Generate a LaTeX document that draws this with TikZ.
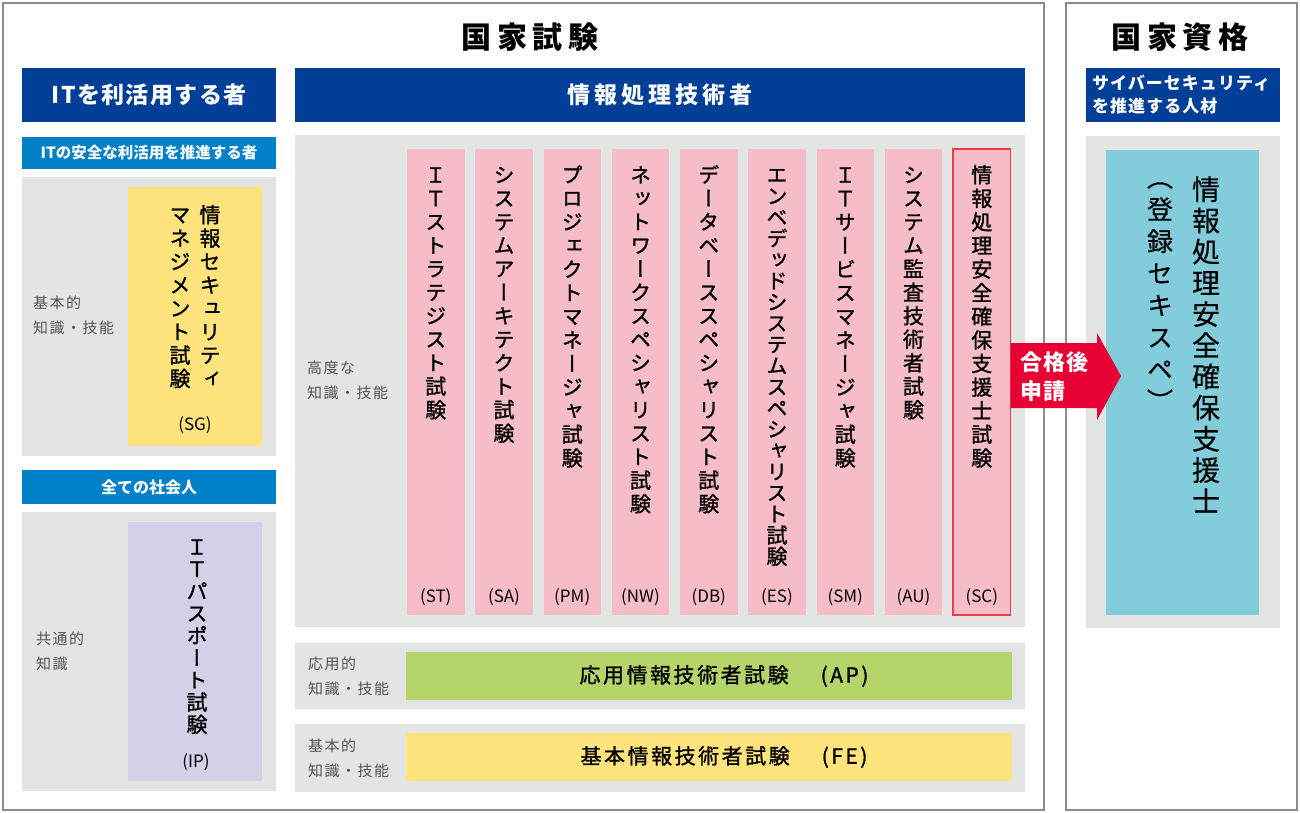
\documentclass[tikz,border=0pt]{standalone}
\usepackage{fontspec}
\setmainfont{Noto Sans CJK JP}
\newfontfamily\jpv[RawFeature=+vert, FakeBold=1.2]{Noto Sans CJK JP}
\newfontfamily\jpvl[RawFeature=+vert, FakeBold=0.4]{Noto Sans CJK JP}
\newfontfamily\jpm[FakeBold=1.2]{Noto Sans CJK JP}
\usetikzlibrary{fit}
\makeatletter
\def\vch@r#1{\ifx\relax#1\else\hbox to 1em{\hss\vrule height .88em depth .12em width 0pt\relax#1\hss}\expandafter\vch@r\fi}
\newcommand\vtext[2]{\vbox{\baselineskip=#1\lineskiplimit=-100pt\lineskip=0pt\expandafter\vch@r#2\relax}}
\makeatother
\definecolor{dblue}{RGB}{0,63,152}
\definecolor{lblue}{RGB}{0,128,200}
\definecolor{pgray}{RGB}{227,228,228}
\definecolor{pinkc}{RGB}{246,189,200}
\definecolor{scred}{RGB}{233,64,69}
\definecolor{arrred}{RGB}{230,0,51}
\definecolor{yel}{RGB}{255,227,124}
\definecolor{lav}{RGB}{213,207,231}
\definecolor{grn}{RGB}{181,213,106}
\definecolor{cyn}{RGB}{131,204,220}
\definecolor{frmgray}{RGB}{140,140,140}
\definecolor{lblgray}{RGB}{85,85,85}
\begin{document}
\begin{tikzpicture}[x=1pt,y=-1pt,
  frm/.style={draw=frmgray, line width=1.5pt, inner sep=0pt, outer sep=0pt},
  area/.style={fill=#1, inner sep=0pt, outer sep=0pt},
  vt/.style={inner sep=0pt, anchor=north, font=\jpv\fontsize{21}{21}\selectfont},
  codetxt/.style={inner sep=0pt, font=\fontsize{17}{20}\selectfont},
  lab/.style={inner sep=0pt, anchor=west, align=left, text=lblgray, font=\fontsize{15}{25}\selectfont\addfontfeature{LetterSpace=10}},
  hdr/.style={text=white, inner sep=0pt, font=\bfseries\fontsize{#1}{#1}\selectfont},
]
\useasboundingbox (0,0) rectangle (1300,812);
\fill[white] (0,0) rectangle (1300,812);

% outer frames
\node[frm, fit={(3,3) (1044,810)}] (exam) {};
\node[frm, fit={(1066,3) (1297,810)}] (qual) {};

% titles
\node[font=\bfseries\fontsize{30}{30}\selectfont\addfontfeature{LetterSpace=18}, inner sep=0pt] (examtitle) at (530,37) {国家試験};
\node[font=\bfseries\fontsize{30}{30}\selectfont\addfontfeature{LetterSpace=18}, inner sep=0pt] (qualtitle) at (1180,37) {国家資格};

% headers
\node[area=dblue, fit={(22,68) (276,122)}] (hIT) {};
\node[hdr=23] (hITt) at (hIT.center) {\addfontfeature{LetterSpace=6}ITを利活用する者};
\node[area=dblue, fit={(295,68) (1025,122)}] (hJ) {};
\node[hdr=23] (hJt) at (hJ.center) {\addfontfeature{LetterSpace=17}情報処理技術者};
\node[area=dblue, fit={(1086,68) (1280,122)}] (hR) {};
\node[hdr=17, anchor=west, align=left, font=\bfseries\fontsize{17}{23}\selectfont] (hRt) at (1092,95) {\addfontfeature{LetterSpace=6}サイバーセキュリティ\\\addfontfeature{LetterSpace=6}を推進する人材};
\node[area=lblue, fit={(22,137) (276,169)}] (hSafe) {};
\node[hdr=15.5] (hSafet) at (hSafe.center) {ITの安全な利活用を推進する者};
\node[area=lblue, fit={(22,470) (276,504)}] (hAll) {};
\node[hdr=16] (hAllt) at (hAll.center) {全ての社会人};

% gray panels
\node[area=pgray, fit={(22,177) (276,456)}] (pSG) {};
\node[area=pgray, fit={(22,512) (276,791)}] (pIP) {};
\node[area=pgray, fit={(295,135) (1025,627)}] (pAdv) {};
\node[area=pgray, fit={(295,643) (1025,709)}] (pAP) {};
\node[area=pgray, fit={(295,724) (1025,792)}] (pFE) {};
\node[area=pgray, fit={(1086,136) (1280,628)}] (pR) {};

% level labels
\node[lab] (lSG) at (33,315) {基本的\\知識・技能};
\node[lab] (lIP) at (36,651) {共通的\\知識};
\node[lab] (lAdv) at (307,380) {高度な\\知識・技能};
\node[lab] (lAP) at (308,676) {応用的\\知識・技能};
\node[lab] (lFE) at (308,758) {基本的\\知識・技能};

% SG
\node[area=yel, fit={(128,187) (262,446)}] (bSG) {};
\node[vt] (tSG1) at (210,204) {\vtext{23.4pt}{情報セキュリティ}};
\node[vt] (tSG2) at (180,204) {\vtext{23.4pt}{マネジメント試験}};
\node[codetxt] (cSG) at (195,425) {(SG)};

% IP
\node[area=lav, fit={(128,522) (262,781)}] (bIP) {};
\node[vt] (tIP) at (197,536) {\vtext{22.2pt}{ＩＴパスポート試験}};
\node[codetxt] (cIP) at (196,762) {(IP)};

% advanced columns
\foreach \i/\cc/\txt/\p in {0/ST/ＩＴストラテジスト試験/23.5, 1/SA/システムアーキテクト試験/23.5, 2/PM/プロジェクトマネージャ試験/23.6, 3/NW/ネットワークスペシャリスト試験/23.5, 4/DB/データベーススペシャリスト試験/23.5, 5/ES/エンベデッドシステムスペシャリスト試験/21.2, 6/SM/ＩＴサービスマネージャ試験/23.6, 7/AU/システム監査技術者試験/23.5, 8/SC/情報処理安全確保支援士試験/23.6}{
  \pgfmathsetmacro\cx{435.75+68.25*\i}
  \node[area=pinkc, fit={(\cx-28.75,149) (\cx+28.75,615)}] (col\cc) {};
  \node[vt] (txt\cc) at (\cx,164) {\vtext{\p pt}{\txt}};
  \node[codetxt] (cd\cc) at (\cx,597) {(\cc)};
}
\draw[scred, line width=1.5pt] (colSC.south west) rectangle (colSC.north east);

% AP / FE
\node[area=grn, fit={(406,652) (1012,700)}] (bAP) {};
\node[inner sep=0pt, font=\jpm\fontsize{21}{21}\selectfont] (bAPt) at ([xshift=15pt]bAP.center) {\addfontfeature{LetterSpace=12}応用情報技術者試験\hspace{32pt}(AP)};
\node[area=yel, fit={(406,733) (1012,781)}] (bFE) {};
\node[inner sep=0pt, font=\jpm\fontsize{21}{21}\selectfont] (bFEt) at ([xshift=15pt]bFE.center) {\addfontfeature{LetterSpace=12}基本情報技術者試験\hspace{32pt}(FE)};

% riss
\node[area=cyn, fit={(1106,150) (1259,615)}] (bR) {};
\node[inner sep=0pt, anchor=north, font=\jpvl\fontsize{28}{28}\selectfont] (tR1) at (1206,175) {\vtext{31.2pt}{情報処理安全確保支援士}};
\node[inner sep=0pt, anchor=north, font=\jpvl\fontsize{26}{26}\selectfont] (tR2) at (1160,164) {\vtext{32pt}{（登録セキスペ）}};

% arrow
\coordinate (aS) at (colSC.east |- 0,376);
\fill[arrred] (aS |- 0,343) -- (1097,343) -- (1097,333) -- (1121,376) -- (1097,420) -- (1097,408) -- (aS |- 0,408) -- cycle;
\node[hdr=22, anchor=west, align=left, font=\bfseries\fontsize{22}{29}\selectfont] (arrtxt) at (1020,377) {\addfontfeature{LetterSpace=5}合格後\\\addfontfeature{LetterSpace=5}申請};
\end{tikzpicture}
\end{document}
